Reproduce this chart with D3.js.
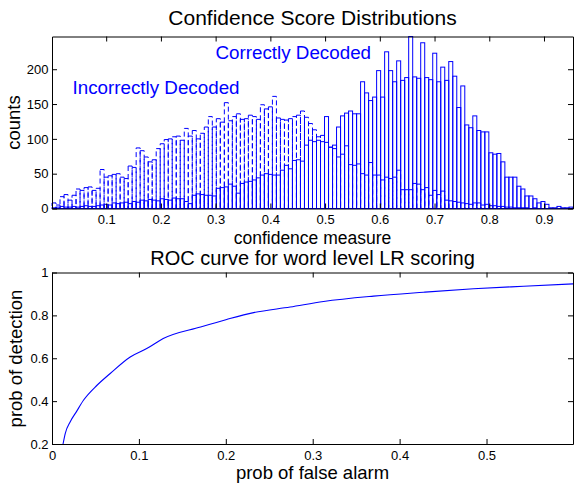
<!DOCTYPE html>
<html><head><meta charset="utf-8">
<script src="https://cdn.jsdelivr.net/npm/d3@7"></script>
<style>body{margin:0;background:#fff} svg text{font-family:"Liberation Sans",Arial,sans-serif}</style>
</head><body><svg id="c" width="574" height="483"></svg>
<script>
// ---- data ----
const binStart = 0.001, binWidth = 0.007323;
const correct = [
  1,2,3,2,2,3,2,3,4,3,
  3,4,5,6,5,8,7,8,9,7,
  10,9,12,11,13,12,11,14,13,12,
  15,14,14,10,7,19,21,20,19,19,
  18,29,30,31,35,32,22,36,38,39,
  41,44,48,50,49,48,48,55,62,57,
  69,70,68,91,98,96,98,96,132,88,
  91,117,133,137,140,136,136,182,166,155,
  160,198,160,225,198,182,212,184,188,247,
  189,187,238,188,185,223,182,203,184,211,
  190,145,176,120,116,133,112,110,110,80,
  78,79,67,45,45,45,32,28,18,18,
  14,8,10,6,1,1,3,1,1,2];
const incorrect = [
  8,5,17,20,12,19,28,26,30,31,
  26,29,56,45,47,49,50,45,43,61,
  59,87,83,74,67,70,86,93,99,100,
  103,104,98,115,104,112,100,108,117,132,
  117,129,124,152,126,132,136,128,129,134,
  132,128,149,143,146,161,130,128,127,129,
  132,134,140,131,122,113,103,105,95,88,
  86,74,78,90,63,62,64,50,48,66,
  48,48,41,45,43,45,55,27,27,27,
  36,35,27,30,19,26,20,25,12,11,
  10,9,8,7,6,8,8,5,6,4,
  4,3,3,2,2,1,1,1,1,0,
  1,0,0,0,0,0,0,0,0,0];
const histXTicks = [0.1,0.2,0.3,0.4,0.5,0.6,0.7,0.8,0.9];
const histYTicks = [0,50,100,150,200];
const rocFA = [0.0127,0.0153,0.021,0.028,0.0364,0.0518,0.067,0.090,0.109,0.128,0.171,0.201,0.232,0.274,0.3125,0.370,0.4276,0.485,0.5427,0.5995];
const rocPD = [0.2,0.25,0.304,0.35,0.405,0.474,0.529,0.606,0.645,0.692,0.746,0.781,0.813,0.839,0.865,0.890,0.908,0.924,0.936,0.947];
const rocXTicks = [0,0.1,0.2,0.3,0.4,0.5];
const rocYTicks = [0.2,0.4,0.6,0.8,1];

// ---- drawing ----
const svg = d3.select("#c");
const BLUE = "#0000ff";
const FONT = '"Liberation Sans",Arial,sans-serif';

function frame(x, y, xt, yt, xfmt, yfmt) {
  const [b, t] = y.range(), [l, r] = x.range();
  const style = g => { g.attr("font-size", 13).attr("font-family", FONT);
    g.selectAll("path,line").attr("stroke", "#000");
    g.selectAll("text").attr("fill", "#000"); };
  svg.append("g").attr("transform", `translate(0,${b})`)
    .call(d3.axisBottom(x).tickValues(xt).tickFormat(xfmt).tickSizeInner(-5).tickSizeOuter(0).tickPadding(6.5)).call(style);
  svg.append("g").attr("transform", `translate(0,${t})`)
    .call(d3.axisTop(x).tickValues(xt).tickFormat("").tickSizeInner(-5).tickSizeOuter(0)).call(style);
  svg.append("g").attr("transform", `translate(${l},0)`)
    .call(d3.axisLeft(y).tickValues(yt).tickFormat(yfmt).tickSizeInner(-5).tickSizeOuter(0).tickPadding(3.5)).call(style);
  svg.append("g").attr("transform", `translate(${r},0)`)
    .call(d3.axisRight(y).tickValues(yt).tickFormat("").tickSizeInner(-5).tickSizeOuter(0)).call(style);
}

function label(txt, x, y, size, opts = {}) {
  const t = svg.append("text").attr("x", x).attr("y", y).attr("font-size", size)
    .attr("font-family", FONT).attr("text-anchor", opts.anchor || "middle")
    .attr("fill", opts.fill || "#000").text(txt);
  if (opts.rot) t.attr("transform", `rotate(-90,${x},${y})`);
  return t;
}

// Histogram
const hx = d3.scaleLinear().domain([0.001, 0.953]).range([52, 573]);
const hy = d3.scaleLinear().domain([0, 247]).range([208.5, 36.5]);
const bars = (data, dash) => svg.append("g").selectAll("rect").data(data).join("rect")
  .attr("x", (d, i) => hx(binStart + i * binWidth))
  .attr("width", (d, i) => hx(binStart + (i + 1) * binWidth) - hx(binStart + i * binWidth))
  .attr("y", d => hy(d)).attr("height", d => hy(0) - hy(d))
  .attr("fill", "none").attr("stroke", BLUE).attr("stroke-width", 1)
  .attr("stroke-dasharray", dash);
bars(incorrect, "5,3");
bars(correct, null);
frame(hx, hy, histXTicks, histYTicks, d3.format(".1f"), d3.format("d"));

label("Confidence Score Distributions", 312.5, 25, 21);
label("Correctly Decoded", 215.5, 59, 18.8, {anchor: "start", fill: BLUE});
label("Incorrectly Decoded", 72.5, 94, 18.8, {anchor: "start", fill: BLUE});
label("counts", 20, 122.5, 18.5, {rot: true});
label("confidence measure", 312.5, 243.5, 17.5);
label("ROC curve for word level LR scoring", 312.5, 265, 20);

// ROC
const rx = d3.scaleLinear().domain([0, 0.5995]).range([52, 573]);
const ry = d3.scaleLinear().domain([0.2, 1]).range([444, 272.5]);
svg.append("path").datum(rocFA.map((f, i) => [f, rocPD[i]]))
  .attr("d", d3.line().x(d => rx(d[0])).y(d => ry(d[1])).curve(d3.curveMonotoneX))
  .attr("fill", "none").attr("stroke", BLUE).attr("stroke-width", 1.1);
frame(rx, ry, rocXTicks, rocYTicks, d => d === 0 ? "0" : d3.format(".1f")(d), d => d === 1 ? "1" : d3.format(".1f")(d));

label("prob of detection", 22, 358.5, 18.5, {rot: true});
label("prob of false alarm", 312.5, 478.5, 18.5);
</script>
</body></html>
